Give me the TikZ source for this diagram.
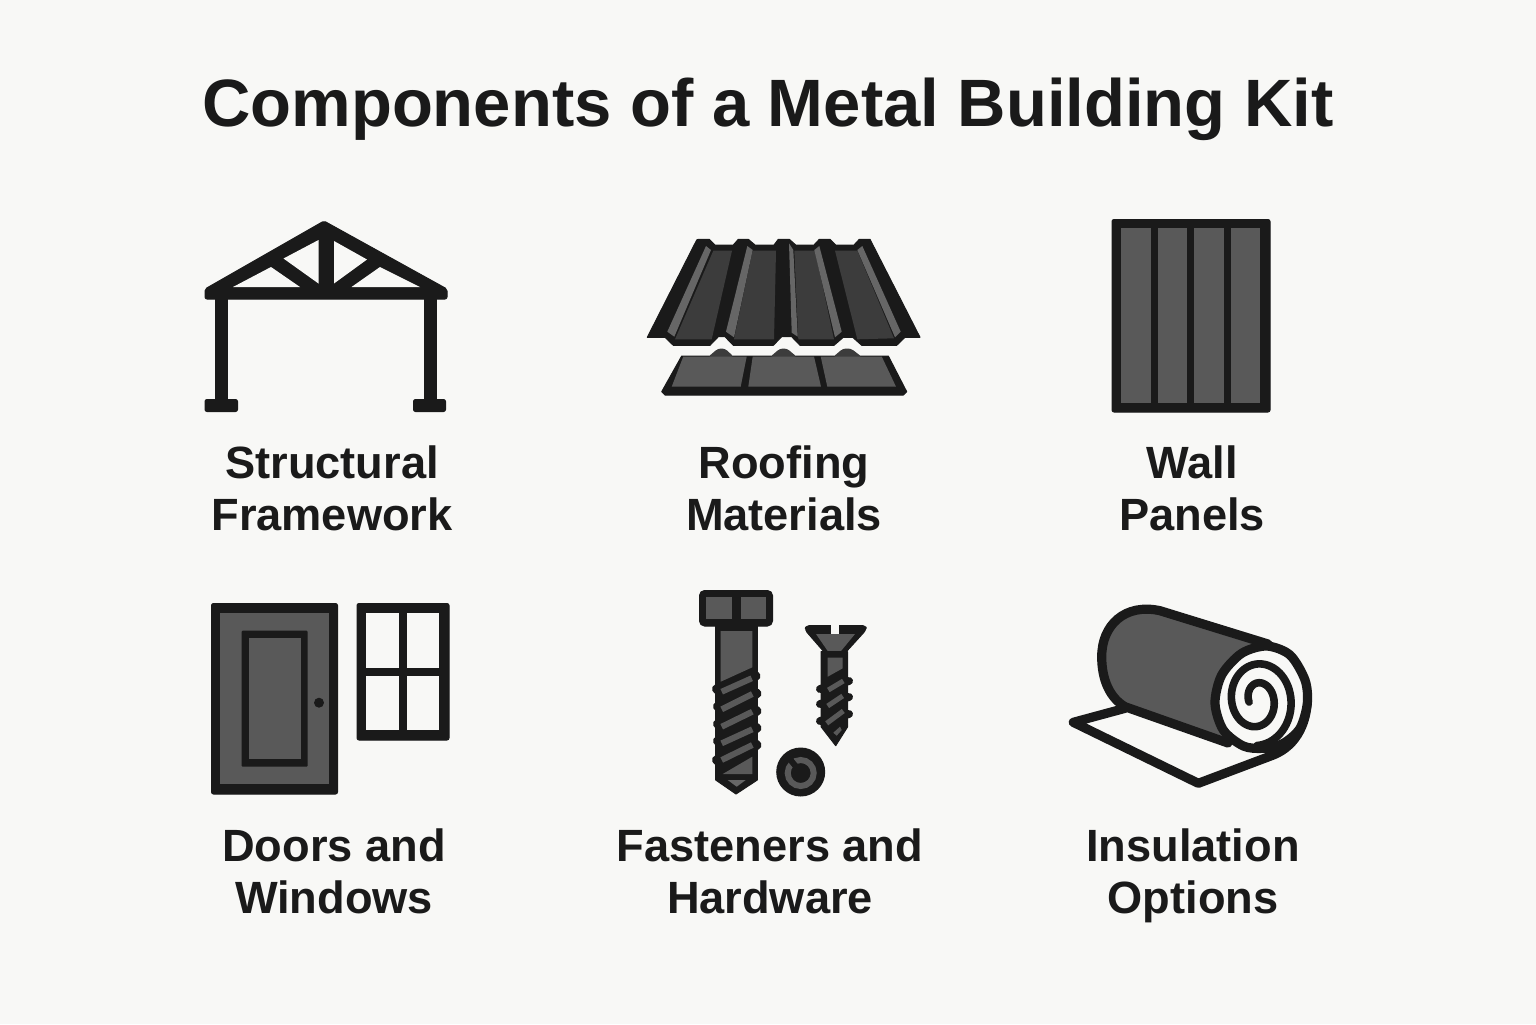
\documentclass[tikz,border=0pt]{standalone}
\usepackage{fontspec}
\setmainfont{Liberation Sans}
\usepackage{xcolor}
\usepackage{tikz}
\definecolor{paper}{HTML}{F8F8F6}
\definecolor{ink}{HTML}{1A1A1A}
\definecolor{slate}{HTML}{595959}
\definecolor{coal}{HTML}{3C3C3C}
\definecolor{sheen}{HTML}{666666}
\tikzset{
  caption/.style={font=\fontsize{22.6}{26}\bfseries\selectfont, text=ink, align=center, inner sep=0pt},
  heading/.style={font=\fontsize{33.5}{40}\bfseries\selectfont, text=ink, inner sep=0pt},
  solid ink/.style={fill=ink, draw=ink, line width=0.5pt, line join=round},
  panel/.style={fill=slate},
  thread/.style={ink, line width=5pt, line cap=round},
  smallthread/.style={ink, line width=4pt, line cap=round},
  stroke/.style={draw=ink, line width=4.6pt, line join=round, line cap=round},
}
\begin{document}
\begin{tikzpicture}[x=0.5pt,y=-0.5pt]
      \fill [paper] (0,0) rectangle (1536,1024);
      \useasboundingbox (0,0) rectangle (1536,1024);
      \node (title) [heading] at (768,109) {Components of a Metal Building Kit};

      \draw [solid ink, rounded corners=1pt] (205,289) -- (324,221) -- (447,289) -- (447,299) -- (205,299) -- cycle;
      \draw [solid ink] (215.5,299) rectangle (227.5,400);
      \draw [solid ink] (424.5,299) rectangle (436.5,400);
      \draw [solid ink, rounded corners=1pt] (205,399.5) rectangle (237.5,411.5);
      \draw [solid ink, rounded corners=1pt] (413.5,399.5) rectangle (445.5,411.5);
      \fill [paper] (233,287) -- (271,267) -- (300,287) -- cycle;
      \fill [paper] (283.5,258.5) -- (318.5,240) -- (318.5,283.5) -- cycle;
      \fill [paper] (334,241) -- (367,259.5) -- (334,283.5) -- cycle;
      \fill [paper] (351.5,287) -- (380,267) -- (420,287) -- cycle;
      \node (framelabel) [caption] at (332,488) {Structural\\Framework};

      \draw [solid ink] (647.3,337.3) -- (696.7,240) -- (698.3,239.3) -- (709.3,239.3) -- (715,245) -- (733.3,245) -- (738.3,239.3) -- (748.3,239.3) -- (755,245) -- (774,245) -- (778.3,239.3) -- (789.3,239.3) -- (795.7,245) -- (814,245) -- (819.3,239.3) -- (830,239.3) -- (835.7,245) -- (854,245) -- (859.3,239.3) -- (870,239.3) -- (920,337.3) -- (905,337.3) -- (896.7,345.3) -- (861.7,345.3) -- (852.7,337.3) -- (843.3,337.3) -- (834,345.3) -- (800,345.3) -- (791.7,336.7) -- (781.7,336.7) -- (773.3,345.3) -- (733.3,345.3) -- (725,336.7) -- (718.3,336.7) -- (710,345.3) -- (673.3,345.3) -- (665,337.3) -- cycle;
      \fill [coal] (713.3,250.7) -- (732,250.7) -- (711.7,339.3) -- (675,339.3) -- cycle;
      \fill [coal] (752.7,250.7) -- (776,250.7) -- (774,339.3) -- (734,339.3) -- cycle;
      \fill [coal] (794.3,250.7) -- (815,250.7) -- (834,339.3) -- (798.3,339.3) -- cycle;
      \fill [coal] (835,250.7) -- (857.3,250.7) -- (894,338.3) -- (857.3,339.3) -- cycle;
      \fill [sheen] (706,246) -- (711,250) -- (674.3,336.7) -- (667.3,331.7) -- cycle;
      \fill [sheen] (747.3,246) -- (752.7,250) -- (734,337.3) -- (726,331.7) -- cycle;
      \fill [sheen] (789,243.3) -- (793.3,250) -- (797.7,336.7) -- (791.7,332.7) -- cycle;
      \fill [sheen] (819.3,246) -- (814.3,250) -- (835,337.3) -- (841.7,331.7) -- cycle;
      \fill [sheen] (862.3,246) -- (857.3,250) -- (895,337.3) -- (900.7,331.7) -- cycle;
      \draw [solid ink] (681.7,356) -- (888.3,356) -- (906.7,391.7) -- (903.3,395) -- (665,395) -- (661.7,391.7) -- cycle;
      \fill [coal, rounded corners=1.5pt] (708,357) -- (718,348.5) -- (725,348.5) -- (734,357) -- cycle;
      \fill [coal, rounded corners=1.5pt] (770,357) -- (780,348.5) -- (787,348.5) -- (797,357) -- cycle;
      \fill [coal, rounded corners=1.5pt] (833,357) -- (843,348.5) -- (851,348.5) -- (862,357) -- cycle;
      \fill [panel] (683.3,356.5) -- (746.7,356.5) -- (740.7,386.7) -- (671.7,386.7) -- cycle;
      \fill [panel] (752.7,356.5) -- (814,356.5) -- (821,386.7) -- (748.3,386.7) -- cycle;
      \fill [panel] (820.7,356.5) -- (881.7,356.5) -- (896,386.7) -- (827.3,386.7) -- cycle;
      \node (rooflabel) [caption] at (784,488) {Roofing\\Materials};

      \draw [solid ink, rounded corners=1pt] (1112,219.5) rectangle (1270,412);
      \fill [panel] (1121,227.5) rectangle (1150.7,403);
      \fill [panel] (1157.7,227.5) rectangle (1187,403);
      \fill [panel] (1194.3,227.5) rectangle (1224,403);
      \fill [panel] (1231,227.5) rectangle (1260.3,403);
      \node (walllabel) [caption] at (1192,488) {Wall\\Panels};

      \draw [solid ink, rounded corners=1pt] (211.5,603.5) rectangle (337.5,794);
      \fill [panel] (220,612.7) rectangle (329.3,784);
      \fill [ink, rounded corners=0.5pt] (241.7,630.7) rectangle (307.7,766.7);
      \fill [panel] (249,637.7) rectangle (300.7,759.3);
      \fill [ink] (319,702.7) circle [radius=5];
      \draw [solid ink, rounded corners=1pt] (357,603.5) rectangle (449,740);
      \fill [paper] (366,612.7) rectangle (399,668.3);
      \fill [paper] (406.7,612.7) rectangle (439.3,668.3);
      \fill [paper] (366,676.3) rectangle (399,730);
      \fill [paper] (406.7,676.3) rectangle (439.3,730);
      \node (doorlabel) [caption] at (334,871) {Doors and\\Windows};

      \draw [solid ink] (715.7,620) -- (757.3,620) -- (757.3,780) -- (736,794) -- (715.7,780) -- cycle;
      \draw [solid ink, rounded corners=2.5pt] (699.5,590.5) rectangle (772.5,626);
      \fill [panel] (705.7,597.3) rectangle (732.3,619.3);
      \fill [panel] (740.7,597.3) rectangle (766,619.3);
      \fill [panel] (720.7,631) -- (752.3,631) -- (752.3,667.3) -- (720.7,681.7) -- cycle;
      \draw [thread] (717,689) -- (755.5,676);
      \draw [thread] (718,706.5) -- (756.5,693.5);
      \draw [thread] (718,724) -- (756.5,711);
      \draw [thread] (718,741) -- (756.5,728);
      \draw [thread] (717,760) -- (756.5,745);
      \draw [slate, line width=3pt] (721.7,691.7) -- (751.7,678.3);
      \draw [slate, line width=3pt] (721.7,709.3) -- (752.3,694);
      \draw [slate, line width=3pt] (721.7,726.7) -- (752.3,711.7);
      \draw [slate, line width=3pt] (721.7,743.3) -- (752.3,729.3);
      \draw [slate, line width=3pt] (721.7,760) -- (752.3,745);
      \fill [panel] (722.7,774) -- (752.3,756.7) -- (752.3,774) -- cycle;
      \fill [sheen] (727.7,780) -- (745.7,780) -- (736.7,786.7) -- cycle;

      \draw [solid ink, rounded corners=1.5pt] (806,625.7) -- (866,625.7) -- (866,630) -- (843.3,655) -- (826.7,655) -- (805,630) -- cycle;
      \fill [paper] (830.7,624) rectangle (839.3,634);
      \fill [panel] (816,634) -- (855,634) -- (841,651) -- (827.7,651) -- cycle;
      \draw [solid ink] (821,651.7) -- (847.7,651.7) -- (847.7,726.7) -- (835.7,745.7) -- (821,726.7) -- cycle;
      \fill [panel] (827.7,657.7) -- (842.7,657.7) -- (842.7,668.3) -- (827.7,676.7) -- cycle;
      \draw [smallthread] (820,689) -- (849,681);
      \draw [smallthread] (820,704) -- (849,697);
      \draw [smallthread] (820,721) -- (849,714);
      \draw [slate, line width=2.5pt] (828.3,690) -- (843.3,681);
      \draw [slate, line width=2.5pt] (827.7,706) -- (842.7,696);
      \draw [slate, line width=2.5pt] (826.7,723.3) -- (843.3,711);
      \fill [panel] (833.3,732.7) -- (840,726.7) -- (841.7,730) -- (836.7,735.7) -- cycle;

      \fill [ink] (800.7,772) circle [radius=24.5];
      \draw [slate, line width=3pt] (800.7,773) circle [radius=13];
      \draw [ink, line width=3pt] (788,757) -- (798,769);
      \node (fastenlabel) [caption] at (770,871) {Fasteners and\\Hardware};

      \draw [stroke, fill=paper] (1125,708.3) -- (1073.3,722.3) -- (1198.3,783.3) -- (1273.3,755) .. controls (1298,745) and (1308,720) .. (1307.3,695);
      \fill [ink] (1240,746) -- (1273.3,755) .. controls (1298,745) and (1308,720) .. (1307.3,695) -- cycle;
      \draw [stroke, fill=slate] (1268,644) -- (1160,610.7) .. controls (1125,603) and (1101.7,625) .. (1101.7,656.7) .. controls (1101.7,680) and (1110,698) .. (1125,706.7) -- (1228,743);
      \draw [stroke, fill=paper] plot [smooth cycle] coordinates {(1215,703.3) (1221.7,675) (1241.7,653.3) (1266.7,646) (1290,655) (1305,680) (1307.3,703.3) (1300,728.3) (1283.3,743.3) (1263.3,748.3) (1243.3,746) (1223.3,730)};
      \draw [draw=ink, line width=3.8pt, line cap=round] plot [domain=170:810, samples=130, smooth] ({1257+(17+0.0472*(\x-360))*cos(\x)},{700+(17+0.0528*(\x-270))*sin(\x)});
      \node (rolllabel) [caption] at (1193,876) {Insulation\\Options};
\end{tikzpicture}
\end{document}
